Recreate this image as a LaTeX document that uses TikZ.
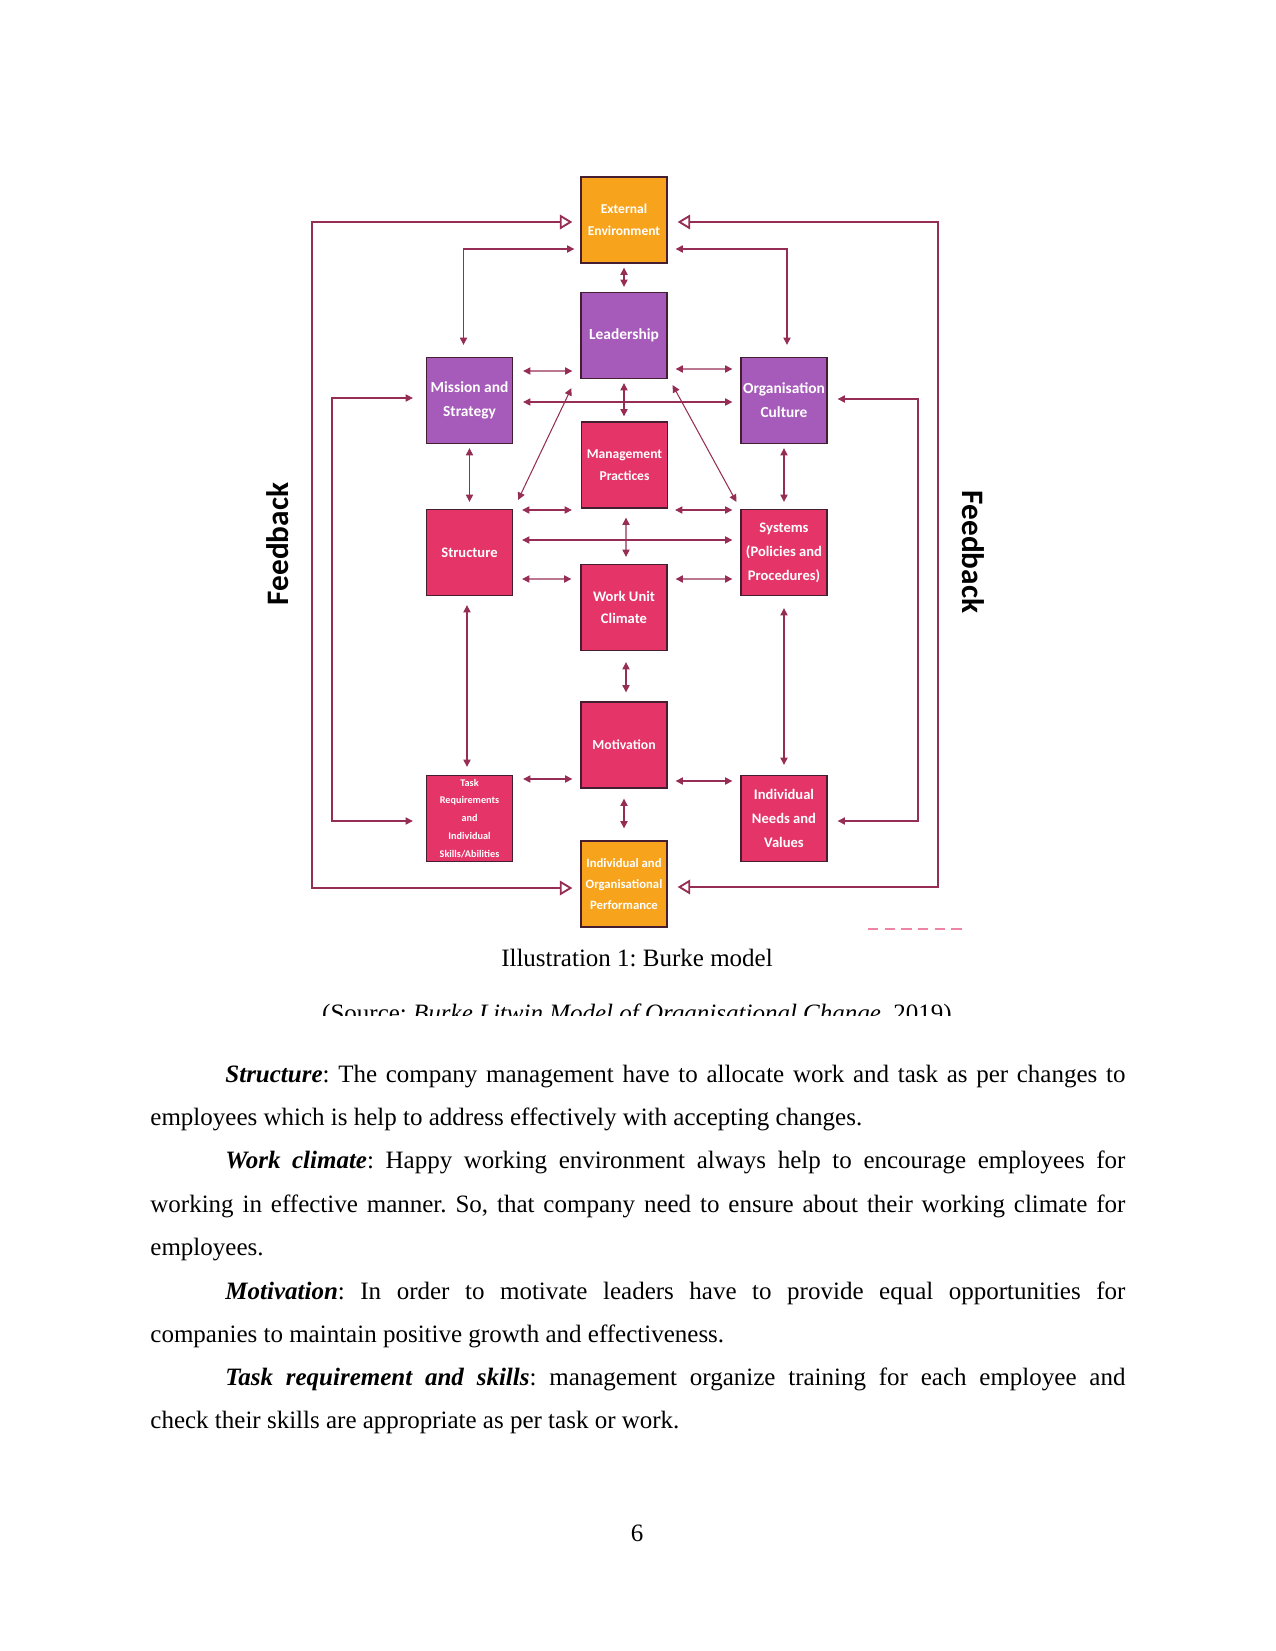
\documentclass[tikz,border=0pt]{standalone}
\usepackage{fontspec}
\setmainfont{Liberation Serif}
\newfontfamily\calfont{Carlito}
\usetikzlibrary{calc,arrows.meta}
\definecolor{extorange}{RGB}{247,163,28}
\definecolor{burkepurple}{RGB}{166,90,186}
\definecolor{burkepink}{RGB}{228,52,104}
\definecolor{linkred}{RGB}{150,45,85}
\definecolor{boxedge}{RGB}{70,30,50}
\frenchspacing
\newcommand\bxf[2]{\calfont\bfseries\fontsize{#1}{#2}\selectfont}
\tikzstyle{bx}=[shape=rectangle, minimum width=41.3pt, minimum height=41.3pt, inner sep=0, draw=boxedge, line width=0.6pt, text=white, align=center]
\tikzstyle{obx}=[bx, fill=extorange]
\tikzstyle{pbx}=[bx, fill=burkepurple]
\tikzstyle{rbx}=[bx, fill=burkepink]
\tikzstyle{lnk}=[draw=linkred, line width=0.5pt, {Triangle[length=3.5pt,width=3.5pt]}-{Triangle[length=3.5pt,width=3.5pt]}]
\tikzstyle{fbk}=[draw=linkred, line width=0.9pt, {Triangle[open,length=6pt,width=7pt]}-{Triangle[open,length=6pt,width=7pt]}]
\tikzstyle{body}=[inner sep=0, anchor=base west, font=\fontsize{12}{14}\selectfont]

\begin{document}
\begin{tikzpicture}[x=0.48pt,y=-0.48pt]
\useasboundingbox (0,0) rectangle (1275,1651);
% boxes
\node at (624,220)[obx, font=\bxf{6.5}{10.5}](ext){External\\Environment};
\node at (624,335.5)[pbx, font=\bxf{7.4}{11}](lead){Leadership};
\node at (469.5,400.5)[pbx, font=\bxf{7.4}{11.5}](miss){Mission and\\Strategy};
\node at (784,400.5)[pbx, font=\bxf{7.4}{11.5}](org){Organisation\\Culture};
\node at (624.5,465)[rbx, font=\bxf{6.5}{10.8}](mgmt){Management\\Practices};
\node at (469.5,552.5)[rbx, font=\bxf{7}{11}](struc){Structure};
\node at (784,552.5)[rbx, font=\bxf{7}{11.5}](sys){Systems\\(Policies and\\Procedures)};
\node at (624,607.5)[rbx, font=\bxf{7}{10.5}](work){Work Unit\\Climate};
\node at (624,745)[rbx, font=\bxf{6.6}{11}](motiv){Motivation};
\node at (469.5,818.5)[rbx, font=\bxf{4.9}{8.6}](task){Task\\Requirements\\and\\Individual\\Skills/Abilities};
\node at (784,818.5)[rbx, font=\bxf{7}{11.5}](needs){Individual\\Needs and\\Values};
\node at (624,884)[obx, font=\bxf{6.1}{10}](perf){Individual and\\Organisational\\Performance};
\node at (278,544)[rotate=90, font=\bxf{15}{18}](fbla){Feedback};
\node at (973,552)[rotate=-90, font=\bxf{15}{18}](fblb){Feedback};
\coordinate (fbl) at (312,550);
\coordinate (fbr) at (938,550);
\coordinate (ifl) at (332,600);
\coordinate (ifr) at (918,600);
% feedback loops
\draw[fbk] ($(ext.west)+(-8,2)$) -| (fbl) |- ($(perf.west)+(-8,4)$);
\draw[fbk] ($(ext.east)+(10,2)$) -| (fbr) |- ($(perf.east)+(10,3)$);
\draw[lnk] ($(miss.west)+(-13,-2.5)$) -| (ifl) |- ($(task.west)+(-13,2.5)$);
\draw[lnk] ($(org.east)+(10,-1.5)$) -| (ifr) |- ($(needs.east)+(10,2.5)$);
\draw[lnk] ($(ext.west)+(-6,29)$) -| ($(miss.north)+(-6,-12)$);
\draw[lnk] ($(ext.east)+(8,29)$) -| ($(org.north)+(3,-12)$);
% links
\draw[lnk] ($(ext.south)+(0,4)$)--($(lead.north)+(0,-5)$);
\draw[lnk] ($(miss.east)+(10,-29.5)$)--($(lead.west)+(-8,35.5)$);
\draw[lnk] ($(lead.east)+(8,33.5)$)--($(org.west)+(-8,-31.5)$);
\draw[lnk] ($(miss.east)+(10,1.5)$)--($(org.west)+(-8,1.5)$);
\draw[lnk] ($(lead.south)+(0,4)$)--($(mgmt.north)+(-0.5,-5)$);
\draw[lnk] ($(lead.south west)+(-9,9)$)--($(struc.north east)+(5,-9)$);
\draw[lnk] ($(lead.south east)+(5,6)$)--($(sys.north west)+(-4,-7)$);
\draw[lnk] ($(miss.south)+(0,4)$)--($(struc.north)+(0,-7)$);
\draw[lnk] ($(org.south)+(0,4)$)--($(sys.north)+(0,-7)$);
\draw[lnk] ($(struc.east)+(9,-42.5)$)--($(mgmt.west)+(-9,45)$);
\draw[lnk] ($(mgmt.east)+(7,45)$)--($(sys.west)+(-8,-42.5)$);
\draw[lnk] ($(struc.east)+(9,-12.5)$)--($(sys.west)+(-8,-12.5)$);
\draw[lnk] ($(struc.east)+(9,26.5)$)--($(work.west)+(-9,-28.5)$);
\draw[lnk] ($(work.east)+(8,-28.5)$)--($(sys.west)+(-8,26.5)$);
\draw[lnk] ($(mgmt.south)+(1.5,9)$)--($(work.north)+(2,-7)$);
\draw[lnk] ($(work.south)+(2,11)$)--($(motiv.north)+(2,-9)$);
\draw[lnk] ($(struc.south)+(-2.5,9)$)--($(task.north)+(-2.5,-8)$);
\draw[lnk] ($(sys.south)+(0,12)$)--($(needs.north)+(0,-10)$);
\draw[lnk] ($(task.east)+(10,-39.5)$)--($(motiv.west)+(-8,34)$);
\draw[lnk] ($(motiv.east)+(8,36)$)--($(needs.west)+(-8,-37.5)$);
\draw[lnk] ($(motiv.south)+(0,10)$)--($(perf.north)+(0,-12)$);
\draw[burkepink!60, line width=1.2pt, dash pattern=on 5pt off 3pt] (868,929)--(968,929);
% caption and source
\node[anchor=base, inner sep=0, font=\fontsize{12}{14}\selectfont] (cap) at (637,966) {Illustration 1: Burke model};
\begin{scope}
\clip (250,990) rectangle (1030,1015);
\node[anchor=base, inner sep=0, font=\fontsize{12}{14}\selectfont] (src) at (637,1021) {(Source: \textit{Burke Litwin Model of Organisational Change}, 2019)};
\end{scope}
% body text
\node[body] (p1a) at (225,1082) {\makebox[432pt][s]{\textbf{\textit{Structure}}: The company management have to allocate work and task as per changes to}};
\node[body] (p1b) at (150,1125) {employees which is help to address effectively with accepting changes.};
\node[body] (p2a) at (225,1168) {\makebox[432pt][s]{\textbf{\textit{Work climate}}: Happy working environment always help to encourage employees for}};
\node[body] (p2b) at (150,1212) {\makebox[468pt][s]{working in effective manner. So, that company need to ensure about their working climate for}};
\node[body] (p2c) at (150,1255) {employees.};
\node[body] (p3a) at (225,1299) {\makebox[432pt][s]{\textbf{\textit{Motivation}}: In order to motivate leaders have to provide equal opportunities for}};
\node[body] (p3b) at (150,1342) {companies to maintain positive growth and effectiveness.};
\node[body] (p4a) at (225,1385) {\makebox[432pt][s]{\textbf{\textit{Task requirement and skills}}: management organize training for each employee and}};
\node[body] (p4b) at (150,1428) {check their skills are appropriate as per task or work.};
\node[anchor=base, inner sep=0, font=\fontsize{12}{14}\selectfont] (pg) at (637,1541) {6};
\end{tikzpicture}
\end{document}
